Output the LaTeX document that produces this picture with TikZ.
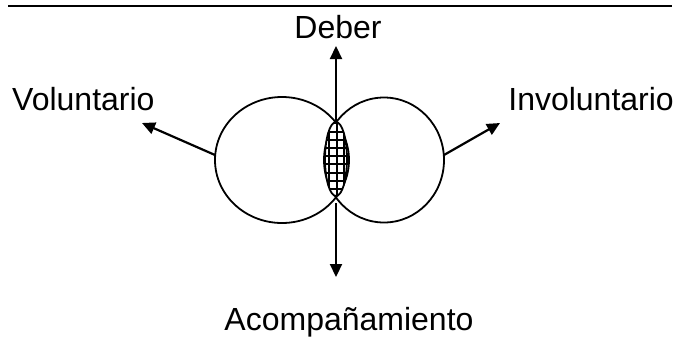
\documentclass[tikz,border=0pt]{standalone}
\usepackage{fontspec}
\setmainfont{Liberation Sans}
\usetikzlibrary{arrows.meta}
\begin{document}
\begin{tikzpicture}[x=1pt,y=-1pt,
  lbl/.style={font=\fontsize{32}{37}\selectfont, inner sep=0pt},
  circ/.style={line width=1.8pt},
  conn/.style={line width=2.2pt, -{Triangle[length=13pt,width=12pt]}}]
\useasboundingbox (0,0) rectangle (675,338);
\draw[line width=2.5pt] (8,6) -- (672,6);
% ellipses
\draw[circ] (282,160) ellipse [x radius=67, y radius=63];
\draw[circ] (384,160) ellipse [x radius=60, y radius=62.5];
% lens with grid
\begin{scope}
\clip (336,159) ellipse [x radius=11, y radius=37];
\fill[white] (320,120) rectangle (352,200);
\foreach \gx in {322,329.3,336.6,343.9,351.2} \draw[line width=1.9pt] (\gx,118) -- (\gx,200);
\foreach \gy in {123.4,131.6,139.8,148,156.2,164.4,172.6,180.8,189,197.2} \draw[line width=1.9pt] (320,\gy) -- (352,\gy);
\end{scope}
\draw[circ] (336,159) ellipse [x radius=11, y radius=37];
% coordinates
\coordinate (top) at (336,122);
\coordinate (bot) at (336,203);
\coordinate (lstart) at (215,155);
\coordinate (rstart) at (444,155);
\coordinate (uptip) at (336,46);
\coordinate (downtip) at (336,277);
\coordinate (ltip) at (142,123);
\coordinate (rtip) at (500,123);
\draw[conn] (top) -- (uptip);
\draw[conn] (bot) -- (downtip);
\draw[conn] (lstart) -- (ltip);
\draw[conn] (rstart) -- (rtip);
% labels
\node[lbl, anchor=base] (deber) at (338,38) {Deber};
\node[lbl, anchor=base west] (vol) at (12,110) {Voluntario};
\node[lbl, anchor=base east] (invol) at (674,110) {Involuntario};
\node[lbl, anchor=base] (acomp) at (349,330) {Acompañamiento};
\end{tikzpicture}
\end{document}
